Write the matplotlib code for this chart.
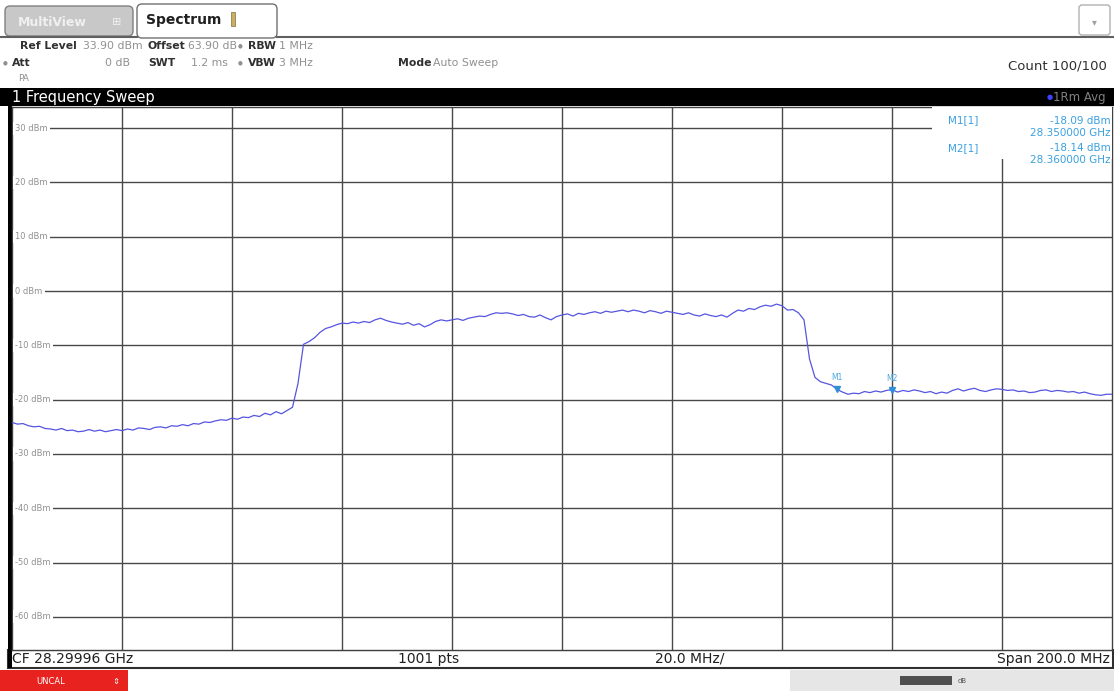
import numpy as np
import matplotlib
matplotlib.use("Agg")
import matplotlib.pyplot as plt
from matplotlib.patches import Rectangle, FancyBboxPatch

# ---- data ----
f_start = 28.19996   # GHz
f_step = 0.001       # GHz per sample (1 MHz)
level_dbm = [
    -24.2, -24.5, -24.4, -24.8, -25.0, -24.9, -25.3, -25.4, -25.6, -25.3, -25.7,
    -25.6, -25.9, -25.8, -25.5, -25.8, -25.6, -25.9, -25.7, -25.5, -25.7,
    -25.4, -25.6, -25.2, -25.3, -25.5, -25.1, -25.0, -25.2, -24.8, -24.9,
    -24.6, -24.8, -24.4, -24.5, -24.1, -24.2, -23.9, -23.7, -23.8, -23.4,
    -23.6, -23.2, -23.3, -22.9, -23.1, -22.5, -22.8, -22.2, -22.6, -22.0,
    -21.4, -17.0, -9.8, -9.3, -8.6, -7.6, -6.9, -6.6, -6.2, -5.9,
    -6.0, -5.7, -5.9, -5.6, -5.8, -5.3, -5.0, -5.4, -5.7, -5.9,
    -6.1, -5.8, -6.3, -6.0, -6.6, -6.2, -5.6, -5.3, -5.5, -5.3,
    -5.1, -5.4, -5.0, -4.8, -4.6, -4.7, -4.3, -4.0, -4.1, -4.0,
    -4.2, -4.5, -4.3, -4.7, -4.8, -4.4, -4.9, -5.3, -4.7, -4.4,
    -4.2, -4.6, -4.1, -4.3, -4.0, -3.8, -4.1, -3.7, -3.9, -3.7,
    -3.5, -3.8, -3.5, -3.7, -4.0, -3.6, -3.8, -4.1, -3.7, -3.9,
    -4.1, -4.3, -4.0, -4.4, -4.6, -4.2, -4.5, -4.7, -4.4, -4.8,
    -4.1, -3.5, -3.7, -3.2, -3.4, -2.9, -2.6, -2.8, -2.4, -2.7,
    -3.5, -3.4, -4.0, -5.3, -12.5, -15.9, -16.7, -17.0, -17.3, -18.09,
    -18.6, -19.0, -18.8, -18.9, -18.5, -18.7, -18.4, -18.6, -18.3, -18.14,
    -18.6, -18.3, -18.5, -18.2, -18.4, -18.7, -18.5, -18.9, -18.6, -18.8,
    -18.3, -18.0, -18.4, -18.1, -17.9, -18.3, -18.5, -18.2, -18.0, -18.1,
    -18.3, -18.2, -18.5, -18.4, -18.7, -18.6, -18.3, -18.2, -18.5, -18.3,
    -18.4, -18.6, -18.5, -18.8, -18.6, -18.9, -19.1, -19.2, -19.0, -19.0,
]
freq_ghz = f_start + f_step * np.arange(len(level_dbm))

marker_names = ["M1", "M2"]
marker_idx = [150, 160]
marker_freq_txt = ["28.350000 GHz", "28.360000 GHz"]
marker_lvl_txt = ["-18.09 dBm", "-18.14 dBm"]

y_ticks = [30, 20, 10, 0, -10, -20, -30, -40, -50, -60]
ref_level = 33.9

W, H = 1114, 691
fig = plt.figure(figsize=(W / 100, H / 100), dpi=100)
fig.patch.set_facecolor("white")

# pixel overlay for the instrument chrome
bg = fig.add_axes([0, 0, 1, 1])
bg.set_xlim(0, W)
bg.set_ylim(H, 0)
bg.axis("off")

# tabs
bg.add_patch(FancyBboxPatch((5, 6), 128, 30, boxstyle="round,pad=0,rounding_size=5",
                            fc="#c8c8c8", ec="#808080", lw=1))
bg.text(18, 22, "MultiView", fontsize=9, color="#f0f0f0", fontweight="bold", va="center")
bg.text(112, 22, "\u229e", fontsize=8, color="#f0f0f0", va="center")
bg.add_patch(FancyBboxPatch((137, 4), 140, 34, boxstyle="round,pad=0,rounding_size=5",
                            fc="white", ec="#707070", lw=1))
bg.text(146, 20, "Spectrum", fontsize=10, color="#202020", fontweight="bold", va="center")
bg.add_patch(Rectangle((231, 12), 4, 14, fc="#c8b060", ec="#807040", lw=0.5))
bg.add_patch(FancyBboxPatch((1079, 5), 31, 30, boxstyle="round,pad=0,rounding_size=3",
                            fc="white", ec="#b0b0b0", lw=1))
bg.text(1094, 22, "\u25be", fontsize=7, color="#a0a0a0", ha="center", va="center")
bg.plot([0, 137], [37, 37], color="#606060", lw=1.5)
bg.plot([277, W], [37, 37], color="#606060", lw=1.5)

# settings rows
dark, light = "#303030", "#909090"
fs = 7.8
bg.text(20, 46, "Ref Level", fontsize=fs, color=dark, fontweight="bold", va="center")
bg.text(83, 46, "33.90 dBm", fontsize=fs, color=light, va="center")
bg.text(148, 46, "Offset", fontsize=fs, color=dark, fontweight="bold", va="center")
bg.text(188, 46, "63.90 dB", fontsize=fs, color=light, va="center")
bg.text(238, 46, "\u25cf", fontsize=4, color=light, va="center")
bg.text(248, 46, "RBW", fontsize=fs, color=dark, fontweight="bold", va="center")
bg.text(279, 46, "1 MHz", fontsize=fs, color=light, va="center")
bg.text(3, 63, "\u25cf", fontsize=4, color=light, va="center")
bg.text(12, 63, "Att", fontsize=fs, color=dark, fontweight="bold", va="center")
bg.text(130, 63, "0 dB", fontsize=fs, color=light, va="center", ha="right")
bg.text(148, 63, "SWT", fontsize=fs, color=dark, fontweight="bold", va="center")
bg.text(228, 63, "1.2 ms", fontsize=fs, color=light, va="center", ha="right")
bg.text(238, 63, "\u25cf", fontsize=4, color=light, va="center")
bg.text(248, 63, "VBW", fontsize=fs, color=dark, fontweight="bold", va="center")
bg.text(279, 63, "3 MHz", fontsize=fs, color=light, va="center")
bg.text(398, 63, "Mode", fontsize=fs, color=dark, fontweight="bold", va="center")
bg.text(433, 63, "Auto Sweep", fontsize=fs, color=light, va="center")
bg.text(18, 78, "PA", fontsize=6.5, color=light, va="center")
bg.text(1107, 66, "Count 100/100", fontsize=9.5, color=dark, va="center", ha="right")

# black title bar
bg.add_patch(Rectangle((0, 88), W, 18, fc="black", ec="none"))
bg.text(12, 97, "1 Frequency Sweep", fontsize=10.5, color="white", va="center")
bg.text(1053, 97, "\u25cf", fontsize=5, color="#4040ff", va="center", ha="right")
bg.text(1106, 97, "1Rm Avg", fontsize=8.5, color="#808080", va="center", ha="right")

# footer
bg.add_patch(Rectangle((8, 650), W - 9, 18, fc="white", ec="#303030", lw=1.5))
bg.text(12, 659, "CF 28.29996 GHz", fontsize=10, color="#202020", va="center")
bg.text(398, 659, "1001 pts", fontsize=10, color="#202020", va="center")
bg.text(655, 659, "20.0 MHz/", fontsize=10, color="#202020", va="center")
bg.text(1110, 659, "Span 200.0 MHz", fontsize=10, color="#202020", va="center", ha="right")
bg.add_patch(Rectangle((0, 670), 128, 21, fc="#e8231f", ec="none"))
bg.text(36, 681, "UNCAL", fontsize=6, color="white", va="center")
bg.text(112, 681, "\u21d5", fontsize=6, color="white", va="center")
bg.add_patch(Rectangle((790, 670), W - 790, 21, fc="#e6e6e6", ec="none"))
bg.add_patch(Rectangle((900, 676), 52, 9, fc="#505050", ec="none"))
bg.text(958, 681, "dB", fontsize=5, color="#505050", va="center")

# left black frame
bg.add_patch(Rectangle((8, 88), 4, 580, fc="black", ec="none"))

# ---- spectrum plot ----
ax = fig.add_axes([12 / W, (H - 650) / H, 1100 / W, 543 / H])
ax.set_xlim(freq_ghz[0], freq_ghz[-1])
ax.set_ylim(ref_level - 100, ref_level)
for s in ax.spines.values():
    s.set_color("#404040")
    s.set_linewidth(1)
ax.set_xticks([])
ax.set_yticks([])

grid_c = "#484848"
for k in range(1, 10):
    ax.axvline(f_start + k * 0.02, color=grid_c, lw=1, zorder=1)
for yv in y_ticks:
    ax.axhline(yv, color=grid_c, lw=1, zorder=1)
    ax.text(0.003, yv, f"{yv} dBm", transform=ax.get_yaxis_transform(),
            fontsize=6, color="#909090", va="center", ha="left", zorder=3,
            bbox=dict(fc="white", ec="none", pad=1.5))

ax.plot(freq_ghz, level_dbm, color="#5555e0", lw=0.9, zorder=4)

mk_c = "#2f8fd8"
for name, i in zip(marker_names, marker_idx):
    ax.plot(freq_ghz[i], level_dbm[i], marker="v", ms=4, color=mk_c, zorder=5)
    ax.text(freq_ghz[i], level_dbm[i] + 1.3, name, fontsize=5.5, color="#4aa8e0",
            ha="center", va="bottom", zorder=5)

# marker table (top right)
ax.add_patch(Rectangle((0.836, 0.905), 0.17, 0.1, transform=ax.transAxes,
                       fc="white", ec="none", zorder=3))
tc = "#3aa0e0"
rows = [(0.975, 0.952), (0.925, 0.903)]
for k in range(2):
    ax.text(0.851, rows[k][0], f"{marker_names[k]}[1]", transform=ax.transAxes,
            fontsize=7.5, color=tc, va="center", zorder=4)
    ax.text(0.999, rows[k][0], marker_lvl_txt[k], transform=ax.transAxes,
            fontsize=7.5, color=tc, va="center", ha="right", zorder=4)
    ax.text(0.999, rows[k][1], marker_freq_txt[k], transform=ax.transAxes,
            fontsize=7.5, color=tc, va="center", ha="right", zorder=4)

fig.savefig("out.png", dpi=100)
